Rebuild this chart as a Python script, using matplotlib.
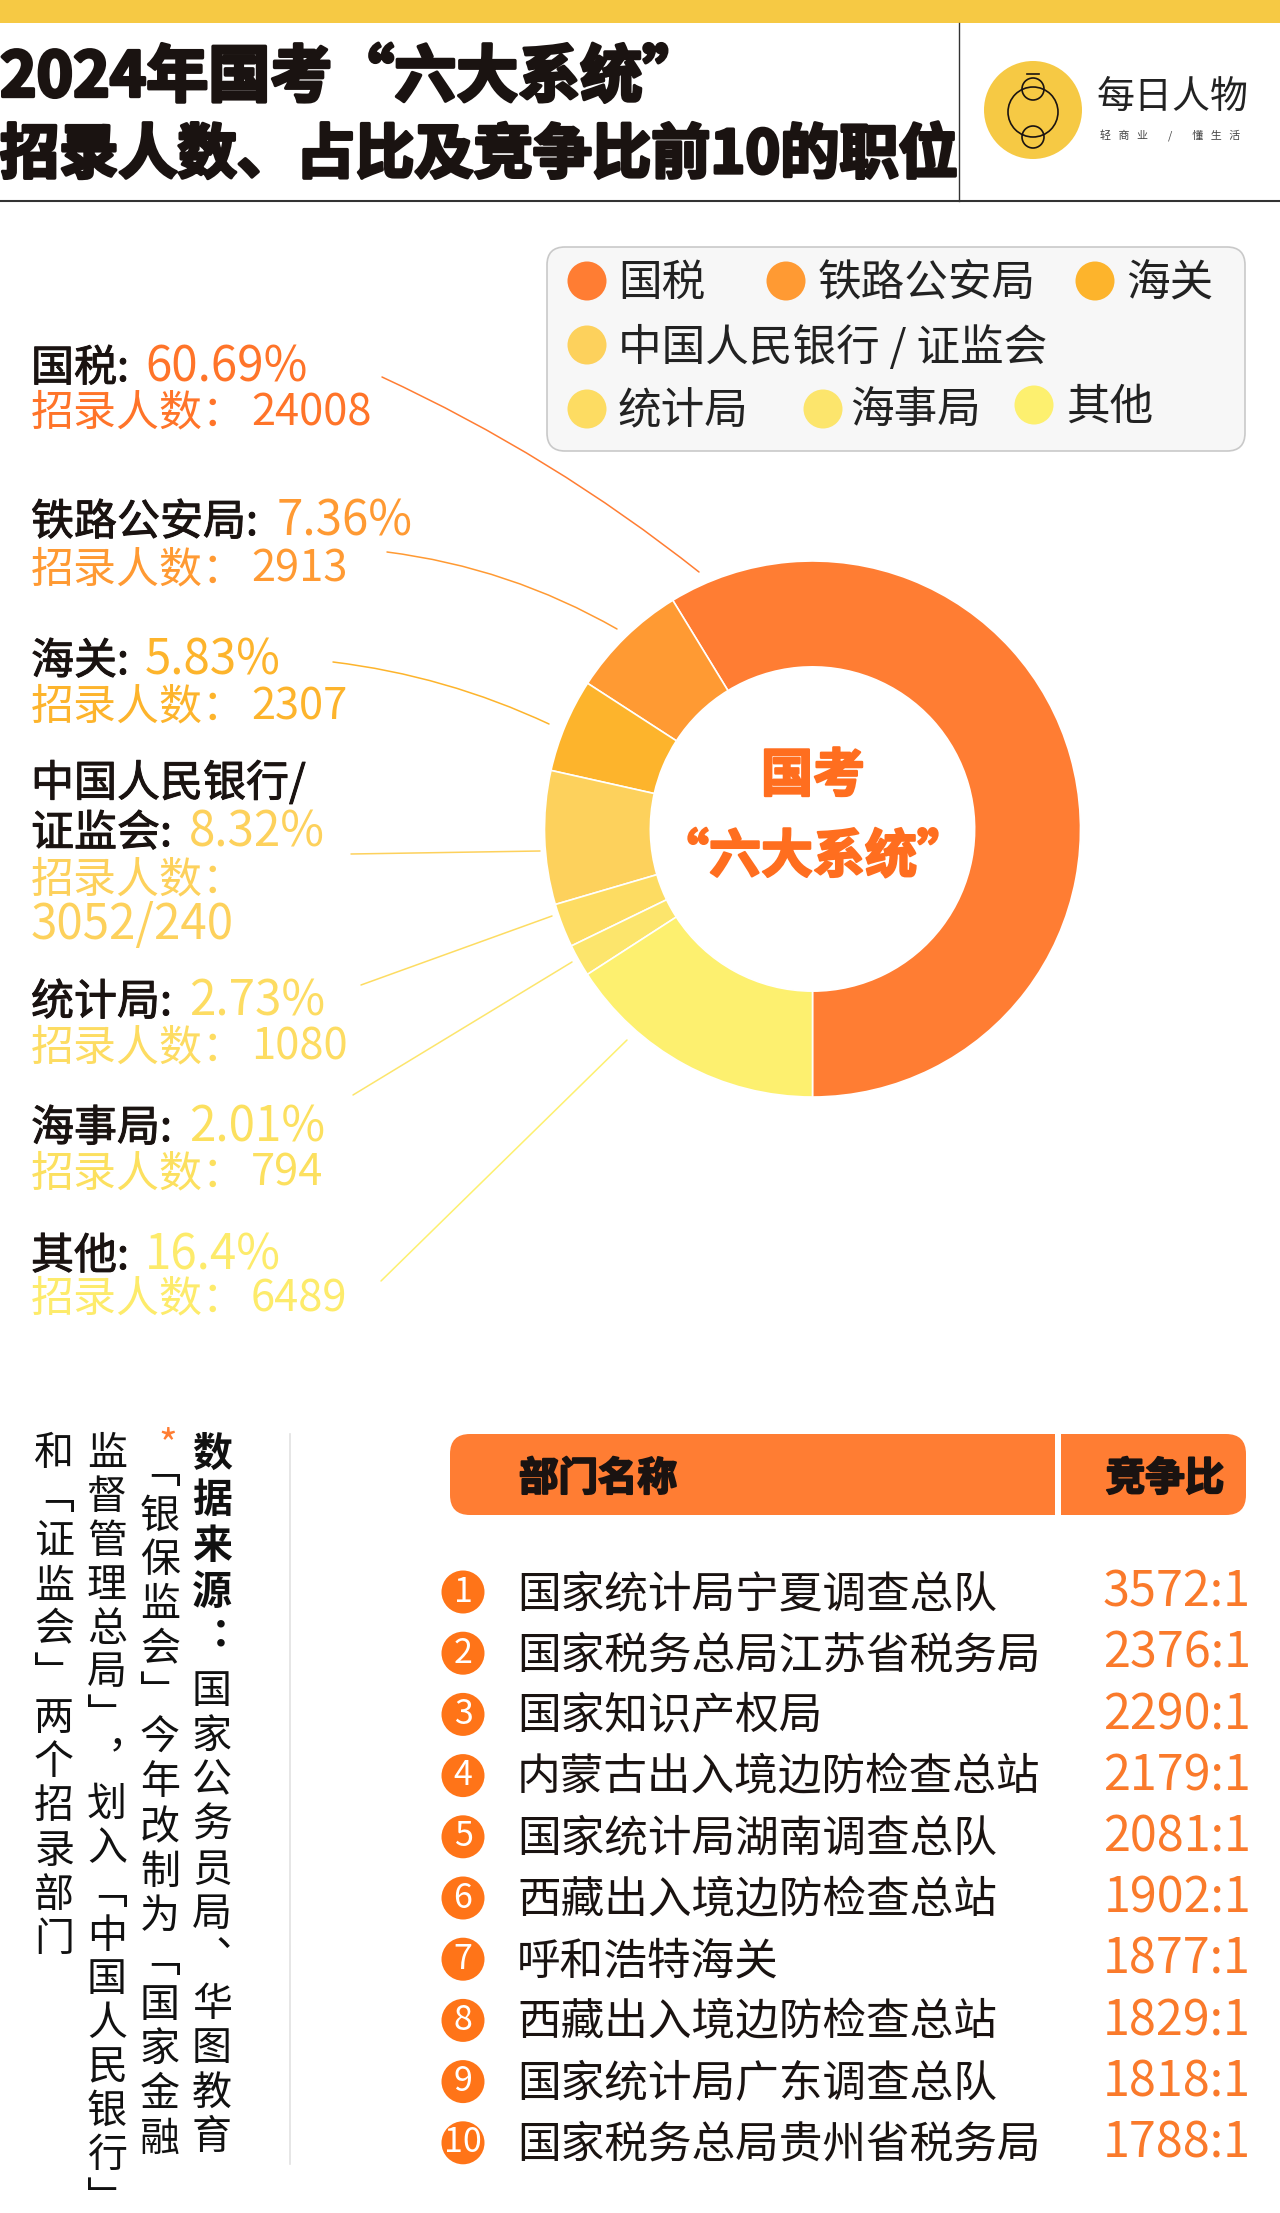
import matplotlib
matplotlib.use("Agg")
import matplotlib.pyplot as plt
import matplotlib.patheffects as pe
from matplotlib.patches import Circle, FancyBboxPatch, Rectangle

CJK = ['Noto Sans CJK SC', 'DejaVu Sans']
plt.rcParams['font.family'] = CJK

# ---------- data ----------
dept_names = ['国税', '铁路公安局', '海关', '中国人民银行 / 证监会', '统计局', '海事局', '其他']
label_names = ['国税:', '铁路公安局:', '海关:', '证监会:', '统计局:', '海事局:', '其他:']
share_pct = [60.69, 7.36, 5.83, 8.32, 2.73, 2.01, 16.4]
recruit_counts = ['24008', '2913', '2307', '3052/240', '1080', '794', '6489']
slice_colors = ['#FF7D33', '#FF9A33', '#FDB42C', '#FDD15C', '#FDDC62', '#FCE56C', '#FDF06F']
job_names = ['国家统计局宁夏调查总队', '国家税务总局江苏省税务局', '国家知识产权局', '内蒙古出入境边防检查总站',
             '国家统计局湖南调查总队', '西藏出入境边防检查总站', '呼和浩特海关', '西藏出入境边防检查总站',
             '国家统计局广东调查总队', '国家税务总局贵州省税务局']
job_ratios = [3572, 2376, 2290, 2179, 2081, 1902, 1877, 1829, 1818, 1788]

W, H = 1280, 2213
fig = plt.figure(figsize=(W / 100, H / 100), dpi=100, facecolor='white')
ax = fig.add_axes([0, 0, 1, 1])
ax.set_xlim(0, W)
ax.set_ylim(H, 0)
ax.axis('off')


def T(x, y, s, px, color='#1A1311', weight='regular', ha='left', va='center', stroke=0, **kw):
    t = ax.text(x, y + 4, s, fontsize=px * 0.72, color=color, fontweight=weight,
                family=CJK, ha=ha, va=va, **kw)
    if stroke:
        t.set_path_effects([pe.withStroke(linewidth=stroke, foreground=color)])
    return t


# ---------- header ----------
ax.add_patch(Rectangle((0, 0), W, 23, fc='#F6C944', ec='none'))
ax.plot([0, W], [201, 201], color='#333333', lw=1.5)
ax.plot([959, 959], [23, 201], color='#333333', lw=1)
T(0, 74, '2024年国考“六大系统”', 62, weight='bold', stroke=2.4)
T(0, 152, '招录人数、占比及竞争比前10的职位', 59.2, weight='bold', stroke=2.4)

ax.add_patch(Circle((1033, 110), 49, fc='#F6C944', ec='none'))
for cx, cy, r in [(1033, 112, 25), (1033, 89, 11), (1033, 137, 11)]:
    ax.add_patch(Circle((cx, cy), r, fc='none', ec='#1A1311', lw=1.2))
ax.plot([1027, 1039], [74, 74], color='#1A1311', lw=1.2)
T(1097, 93, '每日人物', 38, weight='light', color='#222222')
T(1100, 132, '轻   商   业        /        懂   生   活', 11, color='#444444')

# ---------- legend ----------
ax.add_patch(FancyBboxPatch((547, 247), 698, 204, boxstyle='round,pad=0,rounding_size=18',
                            fc='#F7F7F7', ec='#C9C9C9', lw=1.2))
legend_dot_x = [587, 786, 1095, 587, 587, 823, 1034]
legend_dot_y = [281, 281, 281, 345, 409, 409, 405]
legend_text_x = [618, 818, 1126, 618, 618, 850, 1066]
for name, c, dx, dy, tx in zip(dept_names, slice_colors, legend_dot_x, legend_dot_y, legend_text_x):
    ax.add_patch(Circle((dx, dy), 19.5, fc=c, ec='none'))
    T(tx, dy - 1, name, 43.6, color='#222222')

# ---------- donut ----------
cx, cy, R = 812.5, 829, 268
ax_pie = fig.add_axes([(cx - R) / W, 1 - (cy + R) / H, 2 * R / W, 2 * R / H])
ax_pie.pie(share_pct, colors=slice_colors, startangle=-90, counterclock=True, radius=1,
           wedgeprops=dict(width=0.395, edgecolor='white', linewidth=1.2))
ax_pie.set_xlim(-1, 1)
ax_pie.set_ylim(-1, 1)
ax_pie.set_zorder(0)
ax.set_zorder(1)
ax.patch.set_alpha(0)

T(813, 772, '国考', 52, color='#FF6E1F', weight='bold', ha='center', stroke=1.6)
T(813, 853, '“六大系统”', 52, color='#FF6E1F', weight='bold', ha='center', stroke=1.6)

# ---------- side labels ----------
label_y1 = [365, 519, 658, 830, 999, 1125, 1253]
label_y2 = [409, 566, 703, 876, 1044, 1170, 1295]
pct_x = [145, 277, 145, 189, 189, 189, 145]
text_colors = ['#FF7429', '#FF9A33', '#FDB42C', '#FDD15C', '#FDDC62', '#FCE05F', '#FDEB6B']
for i, (nm, pct, n, c) in enumerate(zip(label_names, share_pct, recruit_counts, text_colors)):
    T(31, label_y1[i], nm, 43, stroke=0.7)
    T(pct_x[i], label_y1[i] - 1, f'{pct}%', 47.5, color=c)
    T(31, label_y2[i], '招录人数：', 43, color=c, weight='light')
    if n == '3052/240':
        T(31, 780, '中国人民银行/', 43, stroke=0.7)
        T(31, 921, n, 47.5, color=c)
    else:
        T(251, label_y2[i], n, 43.5, color=c)

leader_from = [(382, 377), (387, 552), (333, 662), (351, 854), (361, 985), (353, 1095), (381, 1281)]
leader_to = [(699, 572), (617, 629), (549, 724), (540, 851), (552, 916), (572, 962), (627, 1040)]
leader_rad = [-0.06, -0.1, -0.08, 0, 0, 0, 0]
for p, q, r, c in zip(leader_from, leader_to, leader_rad, slice_colors):
    ax.annotate('', xy=q, xytext=p,
                arrowprops=dict(arrowstyle='-', color=c, lw=1.1, shrinkA=0, shrinkB=0,
                                connectionstyle=f'arc3,rad={r}'))


# ---------- vertical notes ----------
def V(x, y, s, px, L, weight='regular', color='#111111'):
    ax.text(x, y, '\n'.join(s), fontsize=px * 0.72, fontweight=weight, color=color, family=CJK,
            ha='center', va='top', linespacing=L, multialignment='center')


V(212, 1434, '数据来源︓', 40, 1.16, weight='bold')
V(212, 1672, '国家公务员局︑华图教育', 40, 1.15)
T(168, 1442, '*', 40, color='#FF7D33', ha='center')
V(160, 1452, '﹁银保监会﹂今年改制为﹁国家金融', 40, 1.145)
V(107, 1434, '监督管理总局﹂︐划入﹁中国人民银行﹂', 40, 1.125)
V(54, 1434, '和﹁证监会﹂两个招录部门', 40, 1.135)
ax.plot([290, 290], [1434, 2164], color='#E2E2E2', lw=1.2)

# ---------- table ----------
ax.add_patch(FancyBboxPatch((450, 1434), 796, 81, boxstyle='round,pad=0,rounding_size=20',
                            fc='#FF7D33', ec='none'))
ax.add_patch(Rectangle((1055, 1434), 6, 81, fc='white', ec='none'))
T(519, 1475, '部门名称', 39.5, weight='bold', stroke=1.5)
T(1165, 1475, '竞争比', 39.5, weight='bold', ha='center', stroke=1.5)

for rank, (job, ratio) in enumerate(zip(job_names, job_ratios), start=1):
    y = 1592 + (rank - 1) * 61.2
    ax.add_patch(Circle((463, y), 21.5, fc='#FF7418', ec='none'))
    T(463, y - 4, str(rank), 34, color='white', ha='center')
    T(517, y - 1, job, 43.7)
    T(1251, y - 3, f'{ratio}:1', 48.5, color='#FA7A2B', ha='right')

fig.savefig('out.png', dpi=100, facecolor='white')
